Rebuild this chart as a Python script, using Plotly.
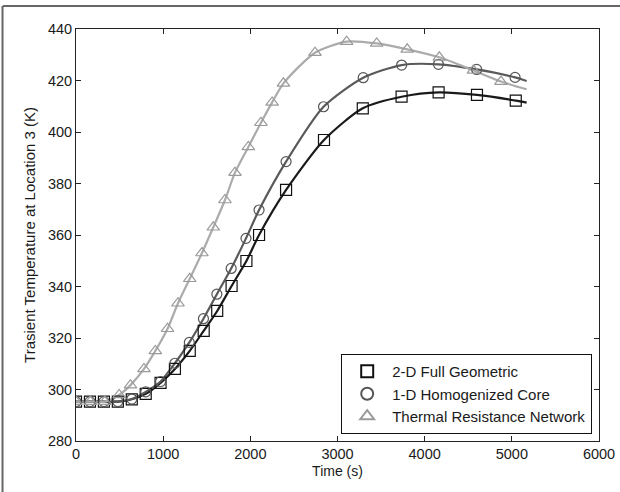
import plotly.graph_objects as go

# ---- data ----
sq_x = [0, 160, 320, 480, 640, 800, 970, 1135, 1305, 1465, 1620, 1785, 1955,
        2100, 2410, 2845, 3290, 3735, 4160, 4600, 5045]
sq_y = [295.3, 295.3, 295.3, 295.3, 296.2, 298.3, 302.6, 308.0, 315.0, 322.8,
        330.5, 340.2, 349.9, 360.0, 377.5, 396.9, 409.2, 413.7, 415.4, 414.4, 412.2]
sq_end_x, sq_end_y = 5170, 411.4

ci_x = [0, 160, 320, 480, 640, 800, 970, 1135, 1300, 1462, 1616, 1780, 1950,
        2100, 2410, 2840, 3295, 3736, 4158, 4597, 5037]
ci_y = [295.3, 295.3, 295.3, 295.3, 296.3, 299.1, 303.1, 310.2, 318.3, 327.5,
        337.0, 347.0, 358.7, 369.7, 388.5, 409.8, 421.1, 426.0, 426.3, 424.3, 421.2]
ci_end_x, ci_end_y = 5170, 419.8

tr_x = [0, 165, 330, 495, 625, 780, 910, 1050, 1170, 1305, 1445, 1575, 1709,
        1824, 1977, 2122, 2250, 2380, 2742, 3105, 3450, 3800, 4168, 4560, 4875]
tr_y = [295.3, 295.3, 295.3, 297.9, 301.7, 308.0, 315.0, 323.6, 333.5, 343.0,
        353.0, 363.0, 373.6, 384.2, 394.2, 403.6, 411.5, 418.9, 430.8, 435.1,
        434.4, 432.1, 429.0, 423.9, 419.6]
tr_end_x, tr_end_y = 5170, 416.6

names = ["2-D Full Geometric", "1-D Homogenized Core", "Thermal Resistance Network"]
x_ticks = [0, 1000, 2000, 3000, 4000, 5000, 6000]
y_ticks = [280, 300, 320, 340, 360, 380, 400, 420, 440]

series = [
    (sq_x, sq_y, sq_end_x, sq_end_y, "square-open", "#111111", "#1a1a1a", 11),
    (ci_x, ci_y, ci_end_x, ci_end_y, "circle-open", "#555555", "#5a5a5a", 10),
    (tr_x, tr_y, tr_end_x, tr_end_y, "triangle-up-open", "#9a9a9a", "#ababab", 11),
]

FONT = "Liberation Sans, Arial, sans-serif"

fig = go.Figure()
for (xs, ys, ex, ey, sym, mcol, lcol, msz) in series:
    fig.add_trace(go.Scatter(
        x=xs + [ex], y=ys + [ey], mode="lines",
        line=dict(color=lcol, width=2.2, shape="spline", smoothing=0.7),
        showlegend=False, hoverinfo="skip"))
for (xs, ys, ex, ey, sym, mcol, lcol, msz), nm in zip(series, names):
    fig.add_trace(go.Scatter(
        x=xs, y=ys, mode="markers", name=nm,
        marker=dict(symbol=sym, size=msz, color=mcol, line=dict(width=1.2, color=mcol))))

axis_common = dict(
    showline=True, linecolor="#222222", linewidth=1, mirror="ticks",
    ticks="inside", ticklen=5, tickcolor="#222222", showgrid=False, zeroline=False,
    automargin=False,
    tickfont=dict(family=FONT, size=14.5, color="#1a1a1a"),
)
fig.update_xaxes(range=[0, 6000], tickvals=x_ticks, **axis_common,
                 title=dict(text="Time (s)", standoff=4,
                            font=dict(family=FONT, size=14, color="#1a1a1a")))
fig.update_yaxes(range=[280, 440], tickvals=y_ticks, **axis_common,
                 title=dict(text="Trasient Temperature at Location 3 (K)", standoff=8,
                            font=dict(family=FONT, size=15, color="#1a1a1a")))

fig.update_layout(
    width=620, height=492,
    margin=dict(l=76, r=21, t=29, b=51),
    paper_bgcolor="white", plot_bgcolor="white",
    legend=dict(x=0.987, y=0.017, xanchor="right", yanchor="bottom",
                bgcolor="white", bordercolor="#111111", borderwidth=1,
                font=dict(family=FONT, size=15, color="#1a1a1a"),
                tracegroupgap=0, itemwidth=40, itemsizing="constant"),
    shapes=[
        dict(type="line", xref="paper", yref="paper", x0=-0.14, x1=1.1, y0=1.056, y1=1.056,
             line=dict(color="#666666", width=2)),
        dict(type="line", xref="paper", yref="paper", x0=-0.1405, x1=-0.1405, y0=-0.2, y1=1.056,
             line=dict(color="#666666", width=2)),
    ],
)
fig.write_html("out.html")
